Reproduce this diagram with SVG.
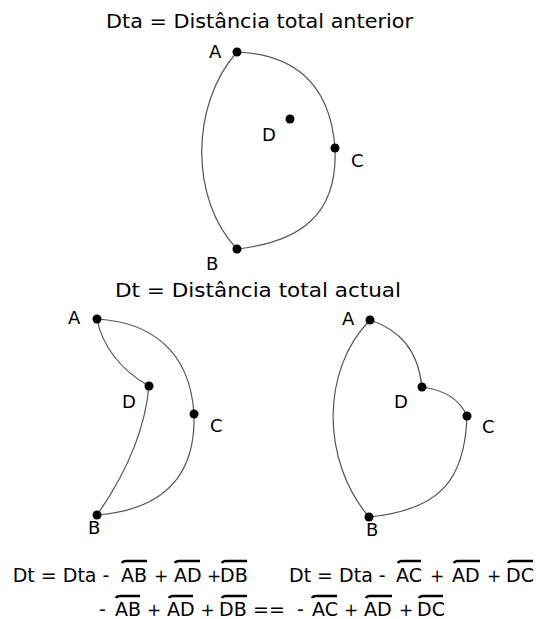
<svg xmlns="http://www.w3.org/2000/svg" width="536" height="619" viewBox="0 0 536 619">
<style>
text{font-family:"DejaVu Sans","Liberation Sans",sans-serif;fill:#000}
.t{font-size:20px}
.l{font-size:18px}
.f{font-size:19px}
.p{font-size:17px}
.c{text-anchor:middle}
.dot{fill:#000}
.edge{fill:none;stroke:#555;stroke-width:1.2}
.ov{fill:none;stroke:#000;stroke-width:2.6}
</style>
<rect width="536" height="619" fill="#fff"/>
<text id="title1" class="t" x="106" y="28" textLength="307" lengthAdjust="spacingAndGlyphs">Dta = Distância total anterior</text>
<text id="title2" class="t" x="115" y="297" textLength="286" lengthAdjust="spacingAndGlyphs">Dt = Distância total actual</text>
<g id="connectors">
<path class="edge" d="M237,52 C290,54 330,80 335,148 C338,215 300,242 237,249 C190,200 190,105 237,52"/>
<path class="edge" d="M97,319 C150,322 190,350 194,414 C196,480 160,510 97,515"/>
<path class="edge" d="M97,515 C125,475 145,430 149,386"/>
<path class="edge" d="M149,386 C120,370 102,345 97,319"/>
<path class="edge" d="M370,320 C400,330 418,350 422,387"/>
<path class="edge" d="M422,387 C445,390 460,400 467,416"/>
<path class="edge" d="M467,416 C465,480 440,510 369,517"/>
<path class="edge" d="M369,517 C321,460 321,370 370,320"/>
</g>
<g id="t-A"><circle class="dot" cx="237" cy="52" r="4.5"/><text class="l" x="209" y="58">A</text></g>
<g id="t-D"><circle class="dot" cx="290" cy="119" r="4.5"/><text class="l" x="262" y="141">D</text></g>
<g id="t-C"><circle class="dot" cx="335" cy="148" r="4.5"/><text class="l" x="351" y="167">C</text></g>
<g id="t-B"><circle class="dot" cx="237" cy="249" r="4.5"/><text class="l" x="206" y="270">B</text></g>
<g id="l-A"><circle class="dot" cx="97" cy="319" r="4.5"/><text class="l" x="68" y="324">A</text></g>
<g id="l-D"><circle class="dot" cx="149" cy="386" r="4.5"/><text class="l" x="122" y="408">D</text></g>
<g id="l-C"><circle class="dot" cx="194" cy="414" r="4.5"/><text class="l" x="210" y="432">C</text></g>
<g id="l-B"><circle class="dot" cx="97" cy="515" r="4.5"/><text class="l" x="88" y="534">B</text></g>
<g id="r-A"><circle class="dot" cx="370" cy="320" r="4.5"/><text class="l" x="342" y="325">A</text></g>
<g id="r-D"><circle class="dot" cx="422" cy="387" r="4.5"/><text class="l" x="394" y="408">D</text></g>
<g id="r-C"><circle class="dot" cx="467" cy="416" r="4.5"/><text class="l" x="482" y="433">C</text></g>
<g id="r-B"><circle class="dot" cx="369" cy="517" r="4.5"/><text class="l" x="366" y="536">B</text></g>
<g id="formula1" class="f">
<text x="12.7" y="582">Dt = Dta -</text>
<text x="121" y="582">AB</text>
<text class="c p" x="161" y="582">+</text>
<text x="174" y="582">AD</text>
<text class="c p" x="214" y="582">+</text>
<text x="220" y="582">DB</text>
<text x="289" y="582">Dt = Dta -</text>
<text x="396" y="582">AC</text>
<text class="c p" x="437" y="582">+</text>
<text x="452" y="582">AD</text>
<text class="c p" x="494" y="582">+</text>
<text x="506" y="582">DC</text>
</g>
<g id="formula2" class="f">
<text class="c" x="102.5" y="616">-</text>
<text x="115" y="616">AB</text>
<text class="c p" x="154" y="616">+</text>
<text x="167" y="616">AD</text>
<text class="c p" x="207.5" y="616">+</text>
<text x="219" y="616">DB</text>
<text class="c" x="269" y="616">==</text>
<text class="c" x="300.5" y="616">-</text>
<text x="312" y="616">AC</text>
<text class="c p" x="351" y="616">+</text>
<text x="364" y="616">AD</text>
<text class="c p" x="406" y="616">+</text>
<text x="417" y="616">DC</text>
</g>
<g id="overlines">
<path class="ov" d="M122,563 Q123,561 126,561 H147"/>
<path class="ov" d="M175,563 Q176,561 179,561 H200"/>
<path class="ov" d="M222,563 Q223,561 226,561 H247"/>
<path class="ov" d="M398,563 Q399,561 402,561 H421"/>
<path class="ov" d="M454,563 Q455,561 458,561 H480"/>
<path class="ov" d="M508,563 Q509,561 512,561 H533"/>
<path class="ov" d="M116,598 Q117,596 120,596 H140"/>
<path class="ov" d="M169,598 Q170,596 173,596 H193"/>
<path class="ov" d="M222,598 Q223,596 226,596 H247"/>
<path class="ov" d="M312,598 Q313,596 316,596 H337"/>
<path class="ov" d="M366,598 Q367,596 370,596 H392"/>
<path class="ov" d="M419,598 Q420,596 423,596 H443"/>
</g>
</svg>
